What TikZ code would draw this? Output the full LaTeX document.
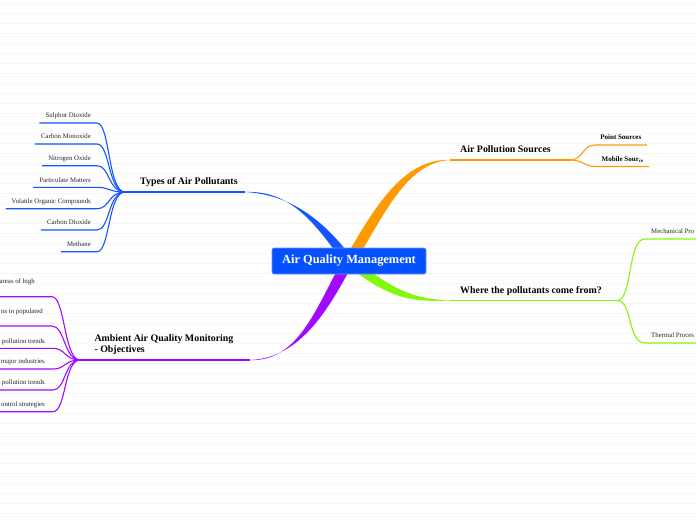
\documentclass[tikz,border=0pt]{standalone}
\usepackage{fontspec}
\setmainfont{Liberation Serif}
\definecolor{cblue}{RGB}{20,85,255}
\definecolor{cbox}{RGB}{5,80,255}
\definecolor{corange}{RGB}{255,155,0}
\definecolor{cgreen}{RGB}{128,250,10}
\definecolor{cpurple}{RGB}{160,10,255}
\definecolor{bgline}{RGB}{246,246,246}
\begin{document}
\begin{tikzpicture}[x=1pt,y=-1pt,
  thinline/.style={line width=1.1pt},
  leaf/.style={font=\fontsize{6.8}{8}\selectfont, text=black!85, text height=4.6pt, text depth=1.4pt, inner ysep=3.6pt, inner xsep=6pt, anchor=south east},
  bleaf/.style={leaf, font=\bfseries\fontsize{7}{8}\selectfont, text=black, inner xsep=5.5pt},
  branchlabel/.style={font=\bfseries\fontsize{9.9}{11}\selectfont, inner sep=0pt, align=left},
  rootbox/.style={fill=cbox, draw=cbox!60!white, line width=0.6pt, rounded corners=2pt, minimum width=154pt, minimum height=26pt, inner sep=0pt, text=white, font=\bfseries\fontsize{12.4}{14}\selectfont}]
\useasboundingbox (0,0) rectangle (696,520);
\fill[white] (0,0) rectangle (696,520);
\foreach \y in {3.5,13.5,...,520} \draw[bgline, line width=0.8pt] (0,\y) -- (696,\y);

% hubs and branch ends
\coordinate (bEnd) at (245,192);
\coordinate (bHub) at (125,192);
\coordinate (oEnd) at (450,160);
\coordinate (oHub) at (570,160);
\coordinate (gEnd) at (450,300.5);
\coordinate (gHub) at (617,300.5);
\coordinate (pEnd) at (250,360);
\coordinate (pHub) at (80,360);

% root position (drawn later on top)
\coordinate (rc) at (349,261);

% thick tapered branches
\fill[cblue] ([xshift=-6pt,yshift=-1pt]rc) .. controls (314,222) and (290,190) .. (bEnd) .. controls (292,194.5) and (326,222) .. ([xshift=6pt,yshift=-1pt]rc) -- cycle;
\fill[corange] ([xshift=-6pt,yshift=-1pt]rc) .. controls (374,208) and (403,158) .. (oEnd) .. controls (407,162.5) and (386,212) .. ([xshift=6pt,yshift=-1pt]rc) -- cycle;
\fill[cpurple] ([xshift=6pt,yshift=1pt]rc) .. controls (332,302) and (304,358) .. (pEnd) .. controls (300,362.3) and (318,302) .. ([xshift=-6pt,yshift=1pt]rc) -- cycle;
\fill[cgreen] ([yshift=6pt]rc) .. controls (392,289) and (410,298.6) .. (gEnd) .. controls (410,302.6) and (388,297) .. ([yshift=-6pt]rc) -- cycle;

% main thin lines
\draw[cblue, thinline] (bEnd) -- (bHub);
\draw[corange, thinline] (oEnd) -- (oHub);
\draw[cgreen, thinline] (gEnd) -- (gHub);
\draw[cpurple, thinline] (pEnd) -- (pHub);

% root
\node[rootbox] (root) at (rc) {Air Quality Management};

% branch labels
\node[branchlabel, anchor=base west] (types) at (140,184.2) {Types of Air Pollutants};
\node[branchlabel, anchor=base west] (sources) at (460,152.6) {Air Pollution Sources};
\node[branchlabel, anchor=base west] (where) at (460,293.6) {Where the pollutants come from?};
\node[branchlabel, anchor=west] (ambient) at (94.3,344.2) {Ambient Air Quality Monitoring\\- Objectives};

% blue leaves
\node[leaf] (b1) at (97,123) {Sulphur Dioxide};
\node[leaf] (b2) at (97,144) {Carbon Monoxide};
\node[leaf] (b3) at (97,165.7) {Nitrogen Oxide};
\node[leaf] (b4) at (97,187.3) {Particulate Matters};
\node[leaf] (b5) at (97,208.7) {Volatile Organic Compounds};
\node[leaf] (b6) at (97,230) {Carbon Dioxide};
\node[leaf] (b7) at (97,251.7) {Methane};
\foreach \n in {b1,b2,b3,b4,b5,b6,b7}
  \draw[cblue, thinline] (\n.south west) -- (\n.south east) .. controls +(13,0) and (108,192) .. (bHub);

% orange leaves
\node[bleaf] (o1) at (647,145) {Point Sources};
\node[bleaf] (o2) at (649,166.5) {Mobile Sour\raisebox{-1.6pt}{\fontsize{5}{5}\selectfont ce}};
\foreach \n in {o1,o2}
  \draw[corange, thinline] (oHub) .. controls +(13,0) and +(-12,0) .. (\n.south west) -- (\n.south east);

% green leaves
\node[leaf, anchor=south west] (g1) at (645,239) {Mechanical Pro};
\node[leaf, anchor=south west] (g2) at (645,343) {Thermal Proces};
\foreach \n in {g1,g2}
  \draw[cgreen, thinline] (gHub) .. controls +(16,0) and +(-18,0) .. (\n.south west) -- ([xshift=10pt]\n.south east);

% purple leaves
\node[leaf, inner xsep=0pt] (p1t) at (35,288.3) {areas of high};
\coordinate (p1l) at (0,296.7);
\coordinate (p1r) at (52,296.7);
\node[leaf, inner xsep=0pt] (p2t) at (43,318.3) {ns in populated};
\coordinate (p2l) at (0,326);
\coordinate (p2r) at (52,326);
\draw[cpurple, thinline] (p1l) -- (p1r) .. controls +(13,0) and (64,360) .. (pHub);
\draw[cpurple, thinline] (p2l) -- (p2r) .. controls +(13,0) and (64,360) .. (pHub);
\node[leaf, inner xsep=8pt] (p3) at (53,348.3) {pollution trends};
\node[leaf, inner xsep=8pt] (p4) at (53,369) {major industries};
\node[leaf, inner xsep=8pt] (p5) at (53,390) {pollution trends};
\node[leaf, inner xsep=8pt] (p6) at (53,411.7) {ontrol strategies};
\foreach \n in {p3,p4,p5,p6}
  \draw[cpurple, thinline] (\n.south west) -- (\n.south east) .. controls +(13,0) and (64,360) .. (pHub);
\end{tikzpicture}
\end{document}
